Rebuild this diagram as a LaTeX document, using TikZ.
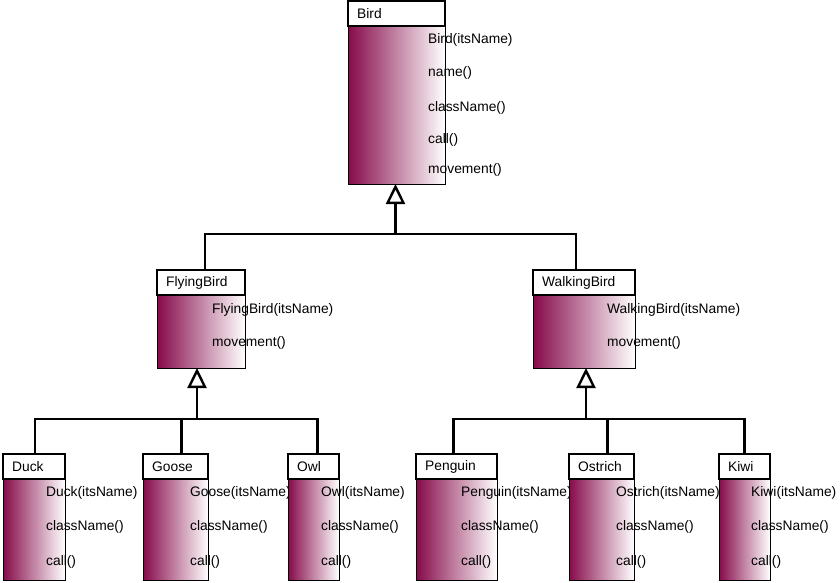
\documentclass[tikz,border=0pt]{standalone}
\usepackage{fontspec}
\setmainfont{Liberation Sans}
\usetikzlibrary{arrows.meta, positioning, calc}
\definecolor{BirdPlum}{HTML}{860A4A}

\tikzset{
   hdr/.style={draw, fill=white, line width=1.8pt, minimum height=25pt, inner sep=0pt, outer sep=0pt},
   lbl/.style={anchor=west, inner xsep=9pt, inner ysep=0pt},
   body/.style={draw, line width=0.8pt, left color=BirdPlum, right color=white, inner sep=0pt, outer sep=0pt},
   meth/.style={anchor=west, inner sep=0pt},
   wire/.style={line width=2.4pt},
   gen/.style={line width=2.4pt, -{Triangle[fill=white, length=20pt, width=19pt]}}
}

\begin{document}
\begin{tikzpicture}[x=1pt, y=-1pt, font=\fontsize{13.8}{16}\selectfont]
   \useasboundingbox (0,0) rectangle (840,582);
   % Bird (base class)
   \node[hdr, minimum width=97pt, anchor=north west, label={[lbl]west:Bird}] (bird) at (348,1) {};
   \node[body, minimum width=97pt, minimum height=158pt, below=0pt of bird] (birdBody) {};
   \foreach \y/\t [count=\i] in {40/Bird(itsName), 73/name(), 108/className(), 140/call(), 170/movement()}
      \node[meth] (birdM\i) at (428,\y) {\t};
   % FlyingBird
   \node[hdr, minimum width=88pt, anchor=north west, label={[lbl]west:FlyingBird}] (flying) at (157,270) {};
   \node[body, minimum width=88pt, minimum height=73pt, below=0pt of flying] (flyingBody) {};
   \node[meth] (flyingM1) at (212,310) {FlyingBird(itsName)};
   \node[meth] (flyingM2) at (212,343) {movement()};
   % WalkingBird
   \node[hdr, minimum width=102pt, anchor=north west, label={[lbl]west:WalkingBird}] (walking) at (533,270) {};
   \node[body, minimum width=102pt, minimum height=73pt, below=0pt of walking] (walkingBody) {};
   \node[meth] (walkingM1) at (607,310) {WalkingBird(itsName)};
   \node[meth] (walkingM2) at (607,343) {movement()};
   % leaf classes
   \foreach \n/\x/\w/\tx/\c in {duck/3/62/46/Duck, goose/143/65/190/Goose, owl/288/51/321/Owl,
         penguin/416/81/461/Penguin, ostrich/569/65/616/Ostrich, kiwi/719/51/751/Kiwi}{
      \node[hdr, minimum width=\w pt, anchor=north west, label={[lbl]west:\c}] (\n) at (\x,454) {};
      \node[body, minimum width=\w pt, minimum height=101pt, below=0pt of \n] (\n Body) {};
      \node[meth] (\n M1) at (\tx,493) {\c(itsName)};
      \node[meth] (\n M2) at (\tx,527) {className()};
      \node[meth] (\n M3) at (\tx,562) {call()};
   }
   % generalisation: Bird
   \coordinate (birdBus) at ($(birdBody.south)+(-1,50)$);
   \draw[wire] ([xshift=4pt]flying.north) |- (birdBus) -| ([xshift=-8pt]walking.north);
   \draw[gen] (birdBus) -- (birdBus |- birdBody.south);
   % generalisation: FlyingBird
   \coordinate (flyBus) at ($(flyingBody.south)+(-4,51)$);
   \draw[wire] ([xshift=1pt]duck.north) |- (flyBus) -| ([xshift=4pt]owl.north);
   \draw[wire] ([xshift=6pt]goose.north) -- ([xshift=6pt]goose.north |- flyBus);
   \draw[gen] (flyBus) -- (flyBus |- flyingBody.south);
   % generalisation: WalkingBird
   \coordinate (walkBus) at ($(walkingBody.south)+(2,51)$);
   \draw[wire] ([xshift=-3pt]penguin.north) |- (walkBus) -| (kiwi.north);
   \draw[wire] ([xshift=6pt]ostrich.north) -- ([xshift=6pt]ostrich.north |- walkBus);
   \draw[gen] (walkBus) -- (walkBus |- walkingBody.south);
\end{tikzpicture}
\end{document}
